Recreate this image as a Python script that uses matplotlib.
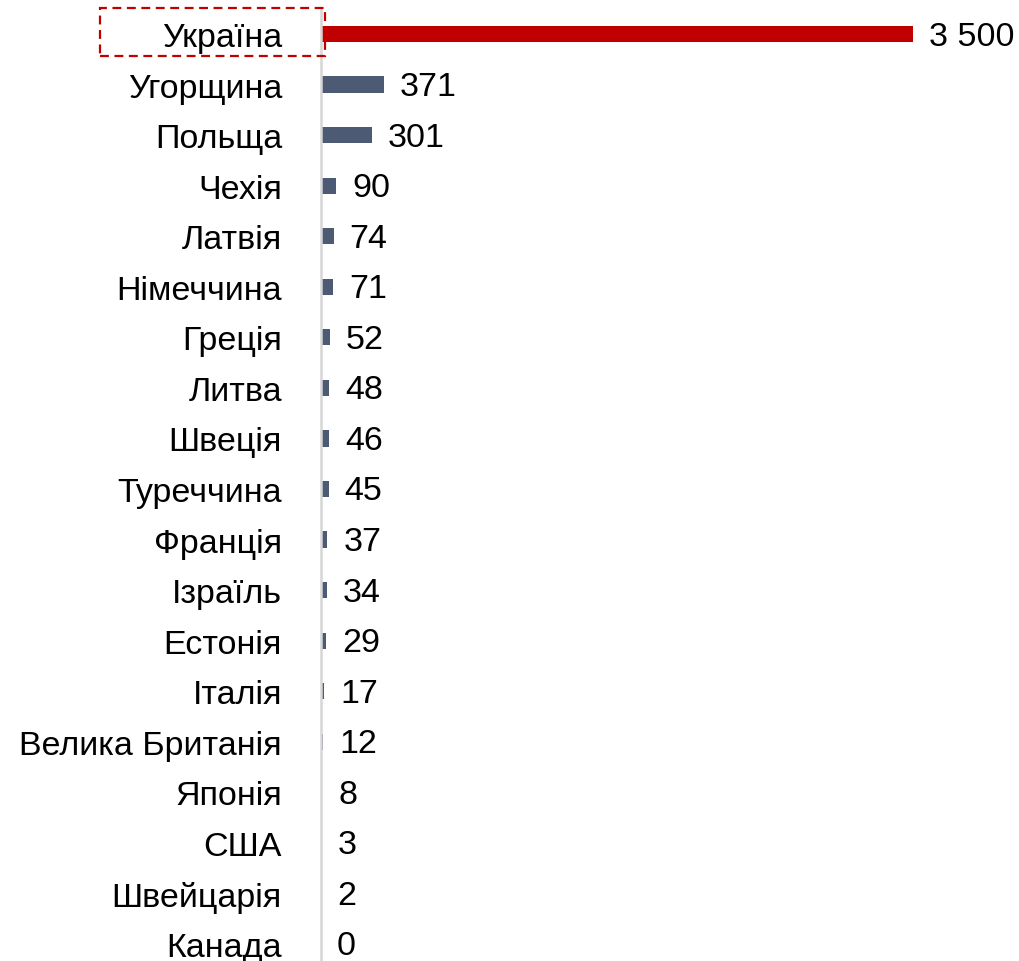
import matplotlib
matplotlib.use("Agg")
import matplotlib.pyplot as plt
from matplotlib.patches import Rectangle

countries = ["Україна", "Угорщина", "Польща", "Чехія", "Латвія", "Німеччина", "Греція",
             "Литва", "Швеція", "Туреччина", "Франція", "Ізраїль", "Естонія", "Італія",
             "Велика Британія", "Японія", "США", "Швейцарія", "Канада"]
values = [3500, 371, 301, 90, 74, 71, 52, 48, 46, 45, 37, 34, 29, 17, 12, 8, 3, 2, 0]
value_labels = ["3 500", "371", "301", "90", "74", "71", "52", "48", "46", "45", "37",
                "34", "29", "17", "12", "8", "3", "2", "0"]

plt.rcParams['font.family'] = ['Liberation Sans', 'DejaVu Sans']

W, H = 1019, 962
fig = plt.figure(figsize=(W / 100, H / 100), dpi=100)
ax = fig.add_axes([321 / W, 0, 1 - 321 / W, (H - 10) / H])

colors = ["#c00000"] + ["#4d5a74"] * (len(values) - 1)
y = list(range(len(values)))
ax.barh(y, values, height=0.32, color=colors)

FS = 24.5
ax.set_xlim(0, 4127)
ax.set_ylim(18.337, -0.495)
ax.set_yticks(y)
ax.set_yticklabels(countries, fontsize=FS)
ax.tick_params(axis='y', length=0, pad=39 * 0.72)
ax.set_xticks([])
for s in ["top", "right", "bottom"]:
    ax.spines[s].set_visible(False)
ax.spines["left"].set_color("#d6d6d6")
ax.spines["left"].set_linewidth(1.8)

for yi, v, lab in zip(y, values, value_labels):
    ax.annotate(lab, (v, yi), xytext=(16 * 0.72, -2 * 0.72), textcoords="offset points",
                va="center", ha="left", fontsize=FS)

# dashed highlight box around the first category label
box = Rectangle((100 / W, 1 - 57 / H), 225 / W, 48 / H, transform=fig.transFigure,
                fill=False, edgecolor="#c00000", linestyle=(0, (4, 2.5)), linewidth=1.6,
                clip_on=False)
fig.add_artist(box)

fig.savefig("out.png", dpi=100)
